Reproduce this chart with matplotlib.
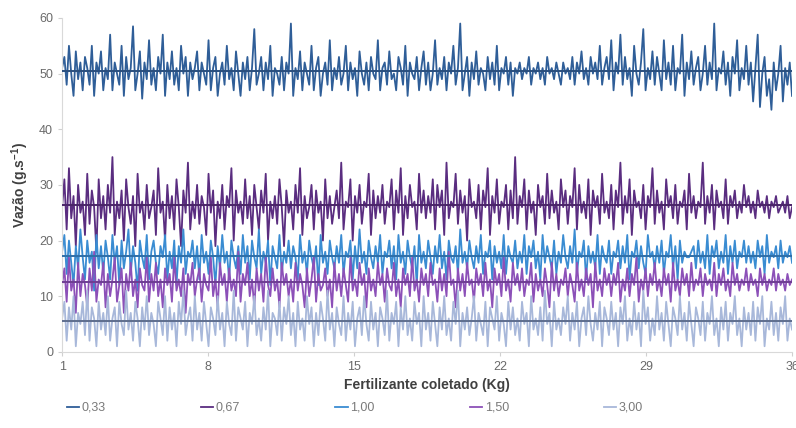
"""Vazão ao longo do fertilizante coletado, cinco doses."""
import matplotlib
matplotlib.use("Agg")
import matplotlib.pyplot as plt
import numpy as np

# values, left to right
s033 = [51, 53, 48, 55, 50, 46, 54, 49, 52, 47, 53, 51, 48, 55, 46, 52, 50, 54, 47, 51,
        49, 57, 47, 52, 50, 48, 55, 46, 53, 49, 51, 58.5, 47, 50, 54, 45.5, 52, 49, 56, 48,
        51, 47, 53, 50, 57, 46, 52, 49, 54, 48, 51, 47, 55, 50, 53, 46, 52, 49, 51, 54,
        47, 52, 50, 48, 56, 47, 51, 53, 46, 50, 52, 48, 55, 49, 51, 47, 54, 50, 46, 52,
        49, 53, 47, 51, 58, 48, 50, 53, 47, 52, 49, 55, 46, 51, 50, 48, 53, 47, 52, 50,
        59, 46, 51, 49, 54, 47, 52, 50, 48, 55, 47, 51, 53, 46, 50, 52, 48, 56, 47, 51,
        49, 53, 48, 50, 55, 47, 52, 49, 51, 46, 54, 50, 48, 52, 47, 53, 50, 49, 56, 47,
        51, 52, 48, 54, 49, 50, 47, 53, 51, 48, 55, 46, 52, 50, 49, 53, 47, 51, 54, 48,
        52, 47, 50, 56, 48, 51, 49, 53, 47, 52, 50, 55, 48, 51, 59, 47, 50, 53, 46, 52,
        49, 54, 48, 51, 50, 47, 53, 49, 52, 48, 55, 47, 51, 50, 53, 48, 52, 46, 51, 50,
        52, 49, 51, 50, 53, 48, 51, 50, 52, 49, 51, 48, 53, 50, 51, 49, 52, 50, 48, 52,
        50, 51, 49, 53, 48, 52, 50, 54, 49, 51, 48, 53, 50, 52, 49, 55, 48, 51, 53, 49,
        56, 47, 52, 50, 57, 48, 53, 49, 51, 46, 55, 50, 48, 52, 58, 47, 51, 49, 54, 48,
        53, 50, 47, 56, 49, 52, 48, 55, 47, 51, 50, 57, 46, 52, 49, 54, 48, 51, 53, 47,
        50, 55, 48, 52, 49, 59, 47, 51, 50, 54, 48, 52, 46, 53, 50, 56, 47, 51, 49, 55,
        48, 52, 45, 51, 57, 44, 50, 53, 46, 49, 43.5, 52, 47, 50, 55, 45, 51, 48, 52, 46]
s067 = [26, 31, 22, 33, 24, 28, 19, 30, 25, 27, 21, 32, 23, 29, 26, 18, 31, 24, 28, 22,
        30, 25, 35, 21, 27, 24, 29, 20, 31, 26, 23, 28, 19, 32, 25, 27, 22, 30, 24, 26,
        29, 21, 33, 25, 27, 20, 30, 24, 28, 22, 31, 26, 19, 29, 25, 34, 22, 27, 24, 30,
        23, 28, 26, 21, 32, 25, 29, 19, 27, 24, 30, 22, 28, 26, 33, 20, 29, 25, 27, 23,
        31, 24, 28, 21, 30, 26, 22, 29, 25, 32, 20, 27, 24, 28, 23, 31, 26, 19, 29, 25,
        27, 22, 30, 25, 33, 21, 28, 24, 26, 30, 22, 29, 25, 27, 20, 31, 24, 28, 23, 26,
        29, 24, 34, 22, 27, 26, 31, 20, 28, 25, 30, 23, 27, 26, 32, 21, 29, 24, 28, 25,
        30, 23, 27, 26, 31, 22, 29, 25, 33, 21, 28, 24, 30, 26, 27, 22, 32, 25, 29, 24,
        28, 25, 31, 22, 30, 26, 29, 21, 34, 24, 27, 26, 32, 23, 29, 25, 28, 20, 31, 26,
        27, 24, 30, 22, 29, 26, 33, 21, 28, 25, 31, 23, 27, 26, 30, 22, 29, 24, 35, 23,
        28, 26, 31, 22, 29, 25, 27, 21, 30, 26, 28, 23, 32, 24, 29, 25, 27, 22, 31, 26,
        29, 23, 28, 26, 33, 22, 30, 25, 27, 24, 31, 21, 29, 26, 28, 23, 32, 25, 27, 24,
        30, 22, 29, 26, 34, 23, 28, 25, 31, 21, 29, 26, 27, 24, 30, 22, 28, 26, 33, 23,
        29, 25, 27, 22, 31, 26, 28, 24, 30, 23, 27, 26, 29, 22, 32, 25, 28, 24, 27, 26,
        34, 23, 28, 25, 30, 22, 29, 26, 27, 24, 31, 23, 28, 26, 29, 24, 27, 25, 30, 26,
        28, 25, 27, 24, 29, 26, 27, 25, 28, 24, 27, 26, 28, 25, 26, 27, 25, 28, 24, 26]
s100 = [18, 21, 14, 20, 16, 12, 19, 15, 22, 17, 13, 20, 16, 18, 11, 21, 15, 19, 14, 20,
        17, 13, 21, 16, 19, 12, 20, 15, 18, 22, 14, 19, 16, 11, 20, 17, 15, 21, 13, 18,
        20, 16, 14, 19, 17, 21, 13, 18, 15, 20, 12, 19, 16, 22, 14, 18, 17, 20, 15, 19,
        13, 21, 16, 18, 14, 20, 17, 12, 19, 15, 21, 16, 18, 13, 20, 17, 15, 19, 14, 21,
        16, 19, 13, 20, 17, 15, 22, 14, 18, 16, 20, 12, 19, 17, 15, 21, 14, 18, 16, 20,
        15, 19, 17, 13, 21, 16, 18, 14, 20, 17, 15, 19, 12, 21, 16, 18, 14, 20, 17, 15,
        19, 16, 21, 14, 18, 17, 20, 13, 19, 15, 22, 16, 18, 14, 20, 17, 15, 19, 16, 21,
        14, 18, 17, 20, 15, 19, 13, 21, 16, 18, 14, 20, 17, 15, 19, 12, 21, 16, 18, 15,
        20, 17, 14, 19, 16, 21, 15, 18, 13, 20, 17, 16, 19, 14, 22, 16, 18, 15, 20, 17,
        15, 19, 16, 21, 14, 18, 17, 20, 13, 19, 16, 18, 15, 21, 14, 19, 17, 16, 20, 15,
        18, 16, 21, 14, 19, 17, 20, 15, 18, 13, 21, 16, 19, 17, 15, 20, 14, 18, 16, 21,
        17, 15, 19, 16, 22, 14, 18, 17, 20, 13, 19, 16, 18, 15, 21, 14, 19, 17, 16, 20,
        14, 18, 17, 20, 15, 19, 16, 21, 13, 18, 17, 20, 15, 19, 16, 14, 21, 17, 18, 15,
        19, 16, 20, 14, 18, 17, 21, 15, 19, 13, 20, 16, 18, 17, 17, 18, 19, 15, 20, 16,
        18, 15, 21, 14, 19, 17, 20, 15, 18, 16, 21, 14, 19, 16, 20, 15, 18, 17, 20, 16,
        19, 16, 18, 15, 20, 17, 19, 14, 21, 16, 18, 17, 19, 15, 20, 16, 18, 17, 19, 16]
s150 = [12, 15, 9, 17, 11, 13, 7, 16, 10, 14, 12, 8, 15, 11, 18, 9, 13, 12, 16, 8,
        14, 10, 13, 17, 9, 12, 15, 7, 14, 11, 16, 10, 13, 8, 15, 12, 11, 17, 9, 14,
        11, 16, 10, 13, 8, 15, 12, 14, 9, 17, 11, 13, 10, 15, 7, 14, 12, 16, 10, 13,
        15, 9, 14, 12, 11, 17, 10, 13, 8, 16, 12, 14, 9, 15, 11, 13, 10, 18, 9, 14,
        12, 16, 10, 13, 8, 15, 11, 14, 9, 17, 12, 10, 15, 11, 13, 8, 16, 12, 14, 10,
        13, 9, 16, 11, 14, 12, 8, 15, 10, 13, 17, 9, 14, 11, 12, 15, 10, 13, 8, 16,
        11, 14, 10, 15, 12, 9, 17, 11, 13, 10, 16, 12, 14, 8, 15, 11, 13, 10, 16, 12,
        14, 9, 15, 12, 11, 16, 10, 13, 8, 15, 12, 14, 10, 17, 11, 13, 9, 15, 12, 14,
        10, 16, 12, 13, 9, 15, 11, 14, 10, 18, 12, 13, 8, 15, 11, 14, 10, 16, 12, 13,
        9, 15, 12, 14, 10, 16, 11, 13, 8, 15, 12, 14, 10, 17, 11, 13, 9, 16, 12, 14,
        11, 15, 10, 13, 12, 16, 9, 14, 11, 13, 10, 15, 12, 8, 16, 11, 14, 10, 13, 12,
        15, 10, 14, 12, 9, 16, 11, 13, 10, 15, 12, 14, 8, 16, 11, 13, 10, 15, 12, 14,
        10, 14, 12, 16, 9, 13, 11, 15, 10, 14, 12, 17, 9, 13, 11, 15, 10, 14, 12, 16,
        11, 13, 10, 15, 12, 14, 9, 16, 11, 13, 10, 15, 12, 14, 10, 16, 11, 13, 12, 15,
        10, 14, 12, 13, 11, 16, 10, 14, 12, 15, 11, 13, 10, 16, 12, 14, 11, 13, 12, 15,
        11, 14, 12, 13, 10, 15, 12, 14, 11, 13, 12, 15, 11, 14, 12, 13, 11, 14, 12, 13]
s300 = [6, 9, 2, 8, 4, 10, 1, 7, 5, 9, 3, 11, 2, 8, 6, 1, 9, 4, 7, 3,
        10, 2, 6, 8, 1, 9, 5, 3, 11, 4, 7, 2, 9, 6, 1, 8, 4, 10, 3, 7,
        5, 1, 9, 6, 3, 10, 2, 8, 4, 7, 1, 9, 5, 11, 3, 6, 8, 2, 10, 4,
        7, 2, 9, 5, 1, 8, 6, 3, 10, 4, 7, 1, 9, 5, 3, 11, 2, 8, 6, 4,
        9, 1, 7, 5, 10, 3, 6, 2, 8, 4, 11, 1, 7, 6, 3, 9, 2, 8, 5, 10,
        3, 7, 1, 9, 4, 6, 2, 10, 5, 8, 1, 7, 3, 9, 6, 2, 11, 4, 7, 1,
        8, 5, 3, 10, 2, 7, 4, 9, 1, 6, 8, 3, 10, 5, 2, 9, 4, 7, 1, 8,
        6, 3, 11, 2, 7, 5, 9, 1, 8, 4, 10, 3, 6, 2, 9, 5, 7, 1, 10, 4,
        7, 2, 9, 5, 1, 8, 4, 10, 3, 6, 2, 9, 5, 11, 1, 7, 4, 8, 3, 6,
        10, 2, 7, 5, 3, 9, 1, 8, 6, 4, 10, 2, 7, 5, 1, 9, 4, 8, 3, 6,
        2, 9, 5, 7, 1, 10, 4, 6, 3, 8, 2, 11, 5, 7, 1, 9, 4, 6, 3, 8,
        5, 10, 2, 7, 4, 9, 1, 6, 8, 3, 10, 5, 2, 7, 4, 9, 1, 8, 6, 3,
        9, 4, 7, 1, 8, 5, 10, 2, 6, 3, 9, 4, 7, 1, 11, 5, 8, 2, 6, 3,
        10, 4, 7, 2, 9, 5, 1, 8, 6, 3, 10, 4, 7, 2, 9, 5, 1, 8, 6, 3,
        9, 2, 7, 5, 10, 3, 6, 1, 8, 4, 9, 2, 7, 5, 10, 3, 6, 1, 8, 4,
        7, 3, 9, 2, 8, 5, 10, 1, 6, 4, 9, 3, 7, 2, 8, 5, 10, 2, 6, 4]

LABELS = ["0,33", "0,67", "1,00", "1,50", "3,00"]
COLORS = ["#2F5E98", "#5A2D80", "#3A8CD2", "#8C50B8", "#A8B8DA"]
MEAN_COLORS = ["#2A4F7E", "#4A2568", "#2F6FA8", "#6E3E92", "#5F6E8E"]
X_TICKS = [1, 8, 15, 22, 29, 36]

plt.rcParams.update({
    "font.family": ["Liberation Sans", "DejaVu Sans"],
    "mathtext.default": "regular",
})

fig = plt.figure(figsize=(7.96, 4.28), dpi=100)
ax = fig.add_axes([0.078, 0.178, 0.917, 0.780])

series = [s033, s067, s100, s150, s300]
for vals, lab, c in zip(series, LABELS, COLORS):
    x = np.linspace(1, 36, len(vals))
    ax.plot(x, vals, color=c, linewidth=1.3, label=lab)
# horizontal mean lines, as in the original
for vals, mc in zip(series, MEAN_COLORS):
    ax.axhline(np.mean(vals), color=mc, linewidth=1.4, zorder=3)

ax.set_xlim(1, 36)
ax.set_ylim(0, 60)
ax.set_xticks(X_TICKS)
ax.set_yticks(range(0, 61, 10))
ax.tick_params(colors="#D0D0D0", labelcolor="#6A6A6A", labelsize=9, length=3)
for sp in ["top", "right"]:
    ax.spines[sp].set_visible(False)
for sp in ["left", "bottom"]:
    ax.spines[sp].set_color("#D9D9D9")

ax.set_xlabel("Fertilizante coletado (Kg)", fontsize=10, fontweight="bold",
              color="#404040", labelpad=4)
ax.set_ylabel("Vazão (g.s$^{-1}$)", fontsize=10, fontweight="bold",
              color="#404040", labelpad=6)

fig.legend(loc="center", bbox_to_anchor=(0.446, 0.047), ncol=5, frameon=False,
           fontsize=9, labelcolor="#7A7A7A", handlelength=1.0,
           handletextpad=0.2, columnspacing=7.6)

fig.savefig("out.png", dpi=100, facecolor="white")
